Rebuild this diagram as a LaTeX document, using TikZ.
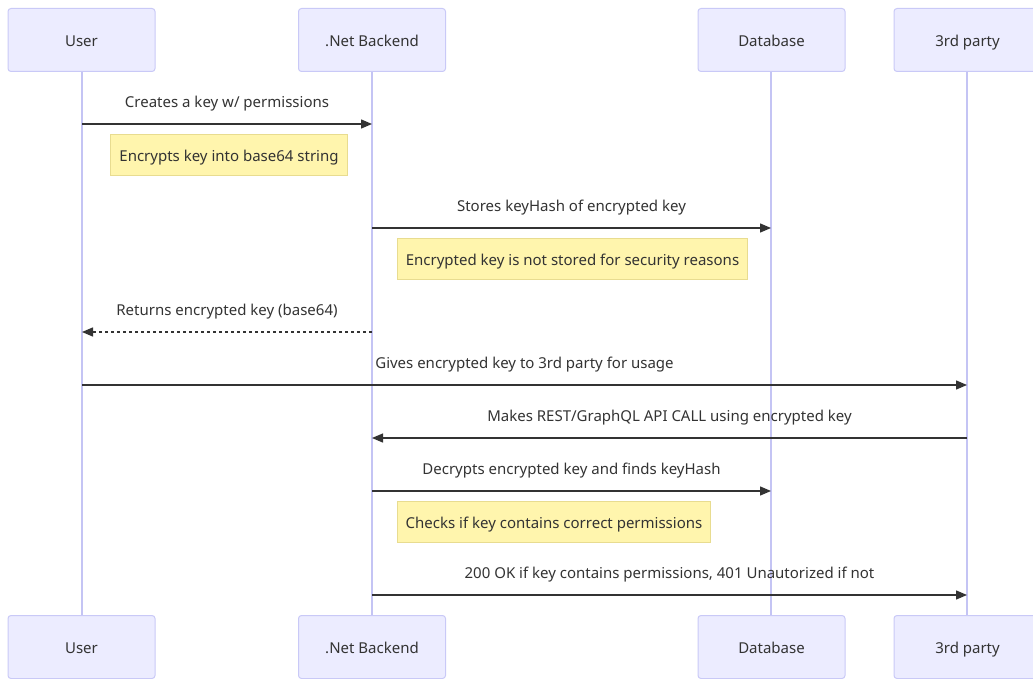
\documentclass[tikz,border=0pt]{standalone}
\usepackage{fontspec}
\setmainfont{Noto Sans}
\usetikzlibrary{arrows.meta}
\definecolor{actorfill}{HTML}{ECECFF}
\definecolor{actorline}{HTML}{C9C9F7}
\definecolor{lifeline}{HTML}{C4C4F4}
\definecolor{notefill}{HTML}{FFF5AD}
\definecolor{noteline}{HTML}{E8DC90}
\definecolor{ink}{HTML}{333333}
\tikzset{
  txt/.style={text=ink, font=\fontsize{15}{17}\selectfont, text height=13pt, text depth=0pt},
  actor/.style={txt, draw=actorline, fill=actorfill, line width=1pt, rounded corners=3pt,
    minimum width=147pt, minimum height=63pt, inner sep=0pt},
  note/.style={txt, draw=noteline, fill=notefill, line width=1pt, inner sep=0pt,
    minimum height=41pt, anchor=west},
  msg/.style={draw=ink, line width=1.3pt, -{Triangle[length=11pt,width=9pt]}},
  reply/.style={msg, dash pattern=on 3pt off 3pt},
  lbl/.style={txt, inner sep=0pt, yshift=23pt},
  life/.style={draw=lifeline, line width=1.3pt}
}
\begin{document}
\begin{tikzpicture}[x=1pt,y=-1pt]
\useasboundingbox (0,0) rectangle (1033,679);

% lifelines
\foreach \n/\x in {u/82,b/372,d/771,t/967}{
  \coordinate (\n top) at (\x,71);
  \coordinate (\n bot) at (\x,615);
  \draw[life] (\n top) -- (\n bot);
}

% participants, top and bottom
\node[actor] (user)  at (81.5,40) {User};
\node[actor] (back)  at (372,40) {.Net Backend};
\node[actor] (db)    at (771.5,40) {Database};
\node[actor] (third) at (967.5,40) {3rd party};
\node[actor] (user2)  at (81.5,647) {User};
\node[actor] (back2)  at (372,647) {.Net Backend};
\node[actor] (db2)    at (771.5,647) {Database};
\node[actor] (third2) at (967.5,647) {3rd party};

% message anchor points on the lifelines
\foreach \n/\x in {u/82,b/372,d/771,t/967}{
  \foreach \k/\y in {1/124,2/228,3/332,4/385,5/438,6/491,7/595}{
    \coordinate (\n\k) at (\x,\y);
  }
}

% messages
\draw[msg] (u1) -- node[lbl] {Creates a key w/ permissions} (b1);
\node[note, minimum width=237pt] (n1) at (110,155) {Encrypts key into base64 string};

\draw[msg] (b2) -- node[lbl] {Stores keyHash of encrypted key} (d2);
\node[note, minimum width=350pt] (n2) at (397,258.5) {Encrypted key is not stored for security reasons};

\draw[reply] (b3) -- node[lbl] {Returns encrypted key (base64)} (u3);

\draw[msg] (u4) -- node[lbl] {Gives encrypted key to 3rd party for usage} (t4);

\draw[msg] (t5) -- node[lbl] {Makes REST/GraphQL API CALL using encrypted key} (b5);

\draw[msg] (b6) -- node[lbl] {Decrypts encrypted key and finds keyHash} (d6);
\node[note, minimum width=313pt] (n3) at (397,521.5) {Checks if key contains correct permissions};

\draw[msg] (b7) -- node[lbl] {200 OK if key contains permissions, 401 Unautorized if not} (t7);
\end{tikzpicture}
\end{document}
